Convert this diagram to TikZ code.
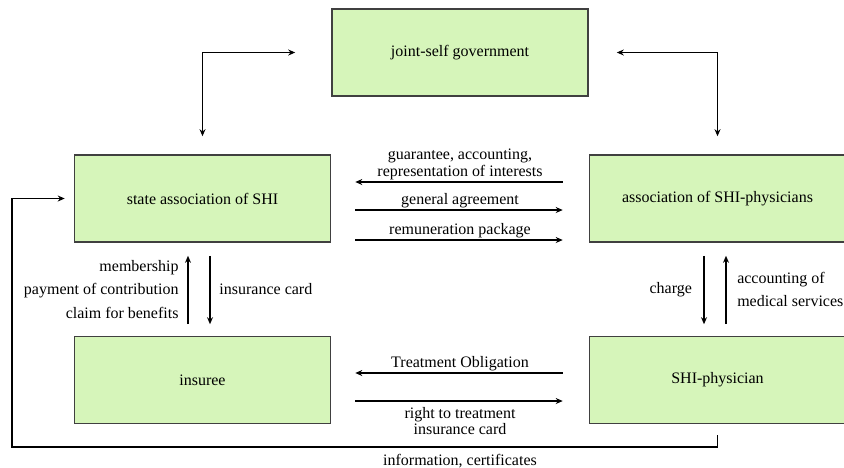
\documentclass[tikz,border=0pt]{standalone}
\usepackage{fontspec}
\setmainfont{Liberation Serif}
\usetikzlibrary{arrows.meta}
\definecolor{boxgreen}{RGB}{214,245,186}
\tikzset{
  box/.style={draw=black!75, line width=0.9pt, fill=boxgreen, minimum width=5.12cm, minimum height=1.74cm, inner sep=0pt},
  flow/.style={->, line width=0.8pt},
  lbl/.style={inner sep=1pt},
}
\begin{document}
\begin{tikzpicture}[x=0.02cm, y=-0.02cm, >={Stealth[length=4pt,width=3.4pt]}, font=\rmfamily\fontsize{9.1}{13.5}\selectfont]
        \useasboundingbox (0,0) rectangle (844,467);
        \node[box] (jsg) at (460,52.5) {joint-self government};
        \node[box] (sas) at (202.5,198.5) {state association of SHI};
        \node[box] (asp) at (717.5,198.5) {association of SHI-physicians};
        \node[box] (ins) at (202.5,380) {insuree};
        \node[box] (shp) at (717.5,380) {SHI-physician};
        \coordinate (r1) at (0,182);
        \coordinate (r2) at (0,210);
        \coordinate (r3) at (0,240);
        \coordinate (r4) at (0,373);
        \coordinate (r5) at (0,401);
        \coordinate (ca) at (188,0);
        \coordinate (cb) at (210,0);
        \coordinate (cc) at (704,0);
        \coordinate (cd) at (726,0);
        \coordinate (lp) at (12,447);
        \draw[flow, <->, shorten <=0.72cm, shorten >=0.36cm] (jsg.west) -| (sas.north);
        \draw[flow, <->, shorten <=0.56cm, shorten >=0.36cm] (jsg.east) -| (asp.north);
        \draw[flow, shorten <=0.52cm, shorten >=0.48cm] (asp.west |- r1) -- (sas.east |- r1)
            node[lbl, midway, above, align=center, font=\fontsize{9.1}{7.6}\selectfont] (guar) {guarantee, accounting,\\representation of interests};
        \draw[flow, shorten <=0.48cm, shorten >=0.52cm] (sas.east |- r2) -- (asp.west |- r2)
            node[lbl, midway, above] (agr) {general agreement};
        \draw[flow, shorten <=0.48cm, shorten >=0.52cm] (sas.east |- r3) -- (asp.west |- r3)
            node[lbl, midway, above] (rem) {remuneration package};
        \draw[flow, shorten <=0.52cm, shorten >=0.48cm] (shp.west |- r4) -- (ins.east |- r4)
            node[lbl, midway, above] (obl) {Treatment Obligation};
        \draw[flow, shorten <=0.48cm, shorten >=0.52cm] (ins.east |- r5) -- (shp.west |- r5)
            node[lbl, midway, below=2pt, align=center, font=\fontsize{9.1}{7.8}\selectfont] (rtt) {right to treatment\\insurance card};
        \draw[flow, shorten <=0.23cm, shorten >=0.26cm] (ca |- ins.north) -- (ca |- sas.south)
            node[lbl, midway, left=4pt, align=right] (mem) {membership\\payment of contribution\\claim for benefits};
        \draw[flow, shorten <=0.26cm, shorten >=0.23cm] (cb |- sas.south) -- (cb |- ins.north)
            node[lbl, midway, right=4pt] (card) {insurance card};
        \draw[flow, shorten <=0.26cm, shorten >=0.23cm] (cc |- asp.south) -- (cc |- shp.north)
            node[lbl, midway, left=5.5pt] (chg) {charge};
        \draw[flow, shorten <=0.23cm, shorten >=0.26cm] (cd |- shp.north) -- (cd |- asp.south)
            node[lbl, midway, right=5pt, align=left, font=\fontsize{9.1}{13}\selectfont] (acc) {accounting of\\medical services};
        \draw[flow, shorten <=0.22cm, shorten >=0.18cm] (shp.south) |- (lp) |- (sas.west);
        \node[lbl, below] (info) at (460,452) {information, certificates};
\end{tikzpicture}
\end{document}
